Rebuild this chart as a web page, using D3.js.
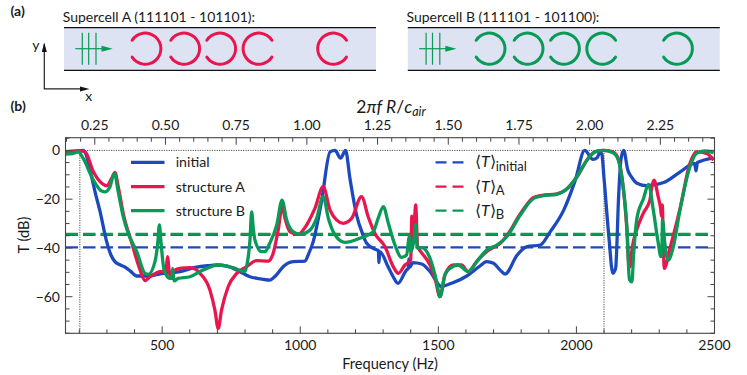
<!DOCTYPE html>
<html><head><meta charset="utf-8">
<style>html,body{margin:0;padding:0;background:#fff}svg{display:block}text{font-family:Lato,sans-serif;fill:#1a1a1a}</style>
<script src="https://cdn.jsdelivr.net/npm/d3@7"></script></head><body>
<script>
const curveInitial=[[150,-0.6],[180,-0.4],[202,-0.1],[214,0],[224,-1.5],[233,-5],[245,-11],[257,-17],[275,-25],[299,-37.4],[315,-43],[329,-45.6],[345,-46.8],[365,-47.8],[385,-49.5],[408,-51.5],[444,-51.5],[503,-50.4],[560,-49.8],[620,-48],[665,-47.3],[697,-47],[735,-47.5],[770,-49],[818,-51.8],[850,-52.6],[890,-53.2],[910,-51.5],[938,-47.7],[974,-45.6],[1017,-45.4],[1030,-42.5],[1047,-37.4],[1077,-21],[1108,-0.6],[1126,0],[1146,-3.2],[1164,0],[1180,-11.5],[1204,-26.5],[1225,-34],[1240,-38],[1277,-40.8],[1283,-41],[1285,-46],[1288,-41.5],[1318,-47.7],[1335,-51.5],[1354,-54.5],[1385,-49],[1391,-48.5],[1393,-44.5],[1396,-48],[1408,-46],[1440,-46.6],[1470,-49.7],[1512,-55.9],[1525,-55.4],[1553,-54.3],[1603,-51.5],[1651,-47.4],[1675,-45.6],[1700,-46.3],[1723,-49],[1742,-50.7],[1785,-43],[1821,-39.5],[1869,-38.8],[1905,-33.4],[1954,-24.5],[1996,-12.2],[2030,0],[2060,-3.7],[2075,-3],[2086,-0.6],[2092,-1.5],[2100,-11.5],[2117,-34.7],[2132,-50.4],[2142,-48.4],[2153,-18.4],[2161,-4],[2171,0],[2186,-8],[2200,-11],[2219,-13.5],[2255,-14.5],[2316,-13.2],[2376,-8.8],[2428,-5.3],[2433,-8.4],[2438,-5],[2497,-3.2]];
const curveA=[[150,-0.6],[202,-0.2],[221,-0.6],[251,-8.8],[281,-13.5],[299,-14.5],[317,-11.5],[329,-9],[341,-14.9],[359,-25.8],[390,-38],[420,-49],[438,-53.4],[456,-51.8],[492,-49.7],[514,-49.5],[517,-46],[520,-43.6],[524,-48],[528,-51.3],[540,-49.5],[570,-48.3],[601,-48.1],[637,-50.4],[673,-57.3],[691,-65.5],[703,-73],[715,-65.5],[739,-55.9],[770,-50.4],[806,-47.7],[842,-45.2],[884,-45.4],[902,-42.2],[920,-32.7],[935,-23],[945,-28],[963,-33.4],[992,-34.4],[1023,-30.6],[1053,-23.8],[1083,-14.9],[1108,-24.5],[1132,-28.6],[1156,-29.9],[1186,-27.9],[1222,-19],[1246,-27.2],[1270,-34],[1307,-39.5],[1337,-47.7],[1355,-50.4],[1379,-47],[1400,-45],[1404,-27],[1409,-36],[1413,-30],[1418,-22.4],[1425,-39.5],[1433,-41],[1470,-47],[1488,-52.5],[1506,-60],[1524,-51],[1554,-47],[1584,-47],[1608,-49.7],[1639,-45.6],[1675,-41.5],[1699,-39.8],[1723,-38.2],[1748,-35],[1797,-26],[1845,-19.3],[1875,-18.4],[1929,-17.8],[1960,-16.3],[2002,-10.8],[2038,-4],[2068,-0.5],[2098,0],[2129,-0.5],[2147,-2.2],[2165,-11],[2183,-33],[2190,-47],[2194,-47.7],[2202,-40],[2218,-32.7],[2242,-25.8],[2266,-20.4],[2273,-15],[2281,-12.2],[2296,-19],[2305,-24],[2308,-27],[2311,-22.4],[2315,-40],[2318,-48.4],[2339,-40],[2375,-24],[2411,-5.3],[2435,-0.6],[2471,-1.2],[2497,-4]];
const curveB=[[150,-1.5],[175,-1.3],[196,-0.6],[214,-3.3],[251,-12.2],[281,-16.7],[293,-17],[311,-14.9],[327,-9.4],[341,-17],[359,-27.2],[377,-34],[408,-41.5],[438,-50.4],[450,-50.8],[474,-45.6],[484,-38],[490,-30.6],[496,-38],[507,-49],[528,-52.5],[535,-52.5],[538,-48.4],[543,-53.5],[558,-52.5],[601,-51.8],[649,-49],[703,-47],[757,-48.1],[800,-49.7],[808,-46.3],[818,-36.8],[824,-25.2],[830,-32],[836,-36.8],[860,-41.5],[872,-41.5],[890,-38],[915,-30.6],[934,-20.4],[951,-28.6],[975,-33.4],[999,-34.4],[1035,-32.7],[1059,-27.9],[1083,-19],[1102,-27.9],[1126,-34.7],[1162,-37.7],[1216,-36],[1264,-33.4],[1282,-27.9],[1301,-23.1],[1319,-29.9],[1343,-38.8],[1367,-43.9],[1385,-42.9],[1395,-35.4],[1401,-41.5],[1410,-38],[1418,-30.6],[1424,-40],[1440,-39.9],[1470,-44.3],[1494,-53.9],[1506,-60],[1524,-51],[1542,-48.4],[1572,-47],[1608,-49.7],[1639,-45.6],[1675,-40.9],[1712,-38.8],[1748,-35.4],[1797,-26.5],[1845,-19.7],[1875,-18.7],[1929,-18],[1960,-16.3],[2002,-10.8],[2038,-4],[2068,-0.6],[2098,0],[2129,-0.8],[2147,-2.7],[2165,-11.5],[2183,-32],[2192,-53],[2201,-53.9],[2207,-43],[2219,-27.9],[2243,-19.7],[2261,-13.9],[2279,-24.9],[2295,-37],[2306,-43.6],[2309,-42],[2312,-28.6],[2320,-38],[2332,-45],[2350,-40],[2375,-24.5],[2411,-6.7],[2435,-1.2],[2465,-0.2],[2497,-1]];
const meanValues=[-39.8,-34.7,-34.2];
const seriesNames=["initial","structure A","structure B"];
const meanSubs=["initial","A","B"];
const seriesColors=["#1c49bd","#e9164e","#0a9a57"];
const bottomTicks=[500,1000,1500,2000,2500];
const leftTicks=[0,-20,-40,-60];
const topTicks=[0.25,0.5,0.75,1,1.25,1.5,1.75,2,2.25];
const markerFreqs=[202,2100];
const sitesA=[81.3,120,156,194.7,269.3];
const opensA=[-1,-1,-1,1,1];
const sitesB=[81.6,119.6,156,194.6,269];
const opensB=[-1,-1,-1,1,-1];
const wavePlanes=[18.3,24.7,32];

const W=747,H=375,ml=65.5,mr=714.5,mt=137.7,mb=333.3;
const svg=d3.select("body").append("svg").attr("width",W).attr("height",H);
const x=d3.scaleLinear().domain([150,2500]).range([ml,mr]);
const y=d3.scaleLinear().domain([5.2,-75]).range([mt,mb]);
const xTop=d3.scaleLinear().domain([150/1024,2500/1024]).range([ml,mr]);
const tickCol="#444";

// panel (a)
function panel(px,title,color,sites,opens,tx){
  const g=svg.append("g").attr("transform",`translate(${px},0)`);
  const s=d3.scaleLinear().domain([0,312]).range([0,312]);
  g.append("rect").attr("x",0).attr("y",27.7).attr("width",312).attr("height",42.6).attr("fill","#dde3f3");
  [27.7,70.3].forEach(v=>g.append("line").attr("x1",0).attr("x2",312).attr("y1",v).attr("y2",v).attr("stroke","#111").attr("stroke-width",1.2));
  svg.append("text").attr("x",tx).attr("y",22).attr("font-size",14).text(title);
  const arc=d3.arc().innerRadius(14.1).outerRadius(17.1);
  sites.forEach((c,i)=>{
    const gap=27*Math.PI/180;
    const mid=opens[i]<0?-Math.PI/2:Math.PI/2; // opening side
    g.append("path").attr("transform",`translate(${s(c)},48.7)`)
     .attr("d",arc.startAngle(mid+gap).endAngle(mid+2*Math.PI-gap).cornerRadius(1.5)())
     .attr("fill",color);
  });
  const wave="#0a9a57";
  wavePlanes.forEach(v=>g.append("line").attr("x1",s(v)).attr("x2",s(v)).attr("y1",32.7).attr("y2",64.7).attr("stroke",wave).attr("stroke-width",1.2));
  g.append("line").attr("x1",s(11.3)).attr("x2",s(40)).attr("y1",48.7).attr("y2",48.7).attr("stroke",wave).attr("stroke-width",1.2);
  g.append("path").attr("d",`M${s(37.5)},45.7L${s(48.7)},48.7L${s(37.5)},51.7Z`).attr("fill",wave);
}
panel(64,"Supercell A (111101 - 101101):",seriesColors[1],sitesA,opensA,62.7);
panel(407.8,"Supercell B (111101 - 101100):",seriesColors[2],sitesB,opensB,406.5);
svg.append("text").attr("x",10.5).attr("y",15.5).attr("font-size",14).attr("font-weight",700).text("(a)");
svg.append("text").attr("x",10.5).attr("y",111).attr("font-size",14).attr("font-weight",700).text("(b)");
svg.append("path").attr("d","M44.3,44L44.3,88.9L86,88.9").attr("fill","none").attr("stroke","#222").attr("stroke-width",1.2);
svg.append("path").attr("d","M44.3,42.5L41.8,52L46.8,52Z").attr("fill","#111");
svg.append("path").attr("d","M89.5,88.9L80,86.4L80,91.4Z").attr("fill","#111");
svg.append("text").attr("x",39.5).attr("y",50).attr("text-anchor","end").attr("font-size",14).text("y");
svg.append("text").attr("x",88.7).attr("y",101).attr("text-anchor","middle").attr("font-size",14).text("x");

// clip
svg.append("clipPath").attr("id","plot").append("rect").attr("x",ml).attr("y",mt).attr("width",mr-ml).attr("height",mb-mt);

// dotted reference lines
svg.append("line").attr("x1",x(202)).attr("x2",mr).attr("y1",y(0)).attr("y2",y(0)).attr("stroke","#222").attr("stroke-width",0.8).attr("stroke-dasharray","1.2 1.2");
markerFreqs.forEach(f=>svg.append("line").attr("x1",x(f)).attr("x2",x(f)).attr("y1",y(0)).attr("y2",mb).attr("stroke","#222").attr("stroke-width",0.8).attr("stroke-dasharray","1.2 1.2"));

// means
const gm=svg.append("g").attr("clip-path","url(#plot)");
meanValues.forEach((v,i)=>gm.append("line").attr("x1",ml).attr("x2",x(2480)).attr("y1",y(v)).attr("y2",y(v)).attr("stroke",seriesColors[i]).attr("stroke-width",2.2).attr("stroke-dasharray","12.5 5"));

// curves
const line=d3.line().x(d=>x(d[0])).y(d=>y(d[1])).curve(d3.curveMonotoneX);
const gc=svg.append("g").attr("clip-path","url(#plot)");
[curveInitial,curveA,curveB].forEach((c,i)=>gc.append("path").attr("d",line(c)).attr("fill","none").attr("stroke",seriesColors[i]).attr("stroke-width",3.3).attr("stroke-linejoin","round"));

// frame + ticks
const bot=d3.range(200,2501,100), lft=d3.range(-75,6,5), tp=d3.range(3,49).map(k=>k*0.05);
const L=(a,b,c,d)=>svg.append("line").attr("x1",a).attr("y1",b).attr("x2",c).attr("y2",d).attr("stroke",tickCol).attr("stroke-width",1);
bot.forEach(v=>{const l=v%500===0?7:4;L(x(v),mb,x(v),mb-l);});
lft.forEach(v=>{const l=v%20===0?7:4;L(ml,y(v),ml+l,y(v));L(mr,y(v),mr-l,y(v));});
tp.forEach(v=>{if(xTop(v)>mr)return;const maj=topTicks.some(t=>Math.abs(t-v)<1e-6);L(xTop(v),mt,xTop(v),mt+(maj?7:4));});
svg.append("rect").attr("x",ml).attr("y",mt).attr("width",mr-ml).attr("height",mb-mt).attr("fill","none").attr("stroke",tickCol).attr("stroke-width",1.1);

// tick labels
bottomTicks.forEach(v=>svg.append("text").attr("x",x(v)).attr("y",350).attr("text-anchor","middle").attr("font-size",14).text(v));
leftTicks.forEach(v=>svg.append("text").attr("x",60).attr("y",y(v)+5).attr("text-anchor","end").attr("font-size",14).text(v<0?"\u2212"+(-v):v));
topTicks.forEach(v=>svg.append("text").attr("x",xTop(v)).attr("y",130).attr("text-anchor","middle").attr("font-size",14).text(v.toFixed(2)));

// titles
svg.append("text").attr("x",390).attr("y",369).attr("text-anchor","middle").attr("font-size",14.6).text("Frequency (Hz)");
svg.append("text").attr("transform","translate(29,235) rotate(-90)").attr("text-anchor","middle").attr("font-size",14.6).text("T (dB)");
const tt=svg.append("text").attr("x",391).attr("y",113).attr("text-anchor","middle").attr("font-size",17.5);
tt.append("tspan").text("2");
tt.append("tspan").attr("font-style","italic").text("\u03c0f R");
tt.append("tspan").text("/");
tt.append("tspan").attr("font-style","italic").text("c");
tt.append("tspan").attr("font-style","italic").attr("dy",3).attr("font-size",12.5).text("air");

// legends
const rows=[162.3,186.7,210.7];
seriesNames.forEach((n,i)=>{
  svg.append("line").attr("x1",131).attr("x2",164.5).attr("y1",rows[i]).attr("y2",rows[i]).attr("stroke",seriesColors[i]).attr("stroke-width",3.3);
  svg.append("text").attr("x",175.7).attr("y",rows[i]+5).attr("font-size",14.2).text(n);
  svg.append("line").attr("x1",435.5).attr("x2",463.5).attr("y1",rows[i]).attr("y2",rows[i]).attr("stroke",seriesColors[i]).attr("stroke-width",2.2).attr("stroke-dasharray","11 6");
  const t=svg.append("text").attr("x",475).attr("y",rows[i]+5).attr("font-size",16);
  t.append("tspan").text("\u27e8");
  t.append("tspan").attr("font-style","italic").text("T");
  t.append("tspan").text("\u27e9");
  t.append("tspan").attr("dy",3.5).attr("font-size",13).text(meanSubs[i]);
});
</script></body></html>
